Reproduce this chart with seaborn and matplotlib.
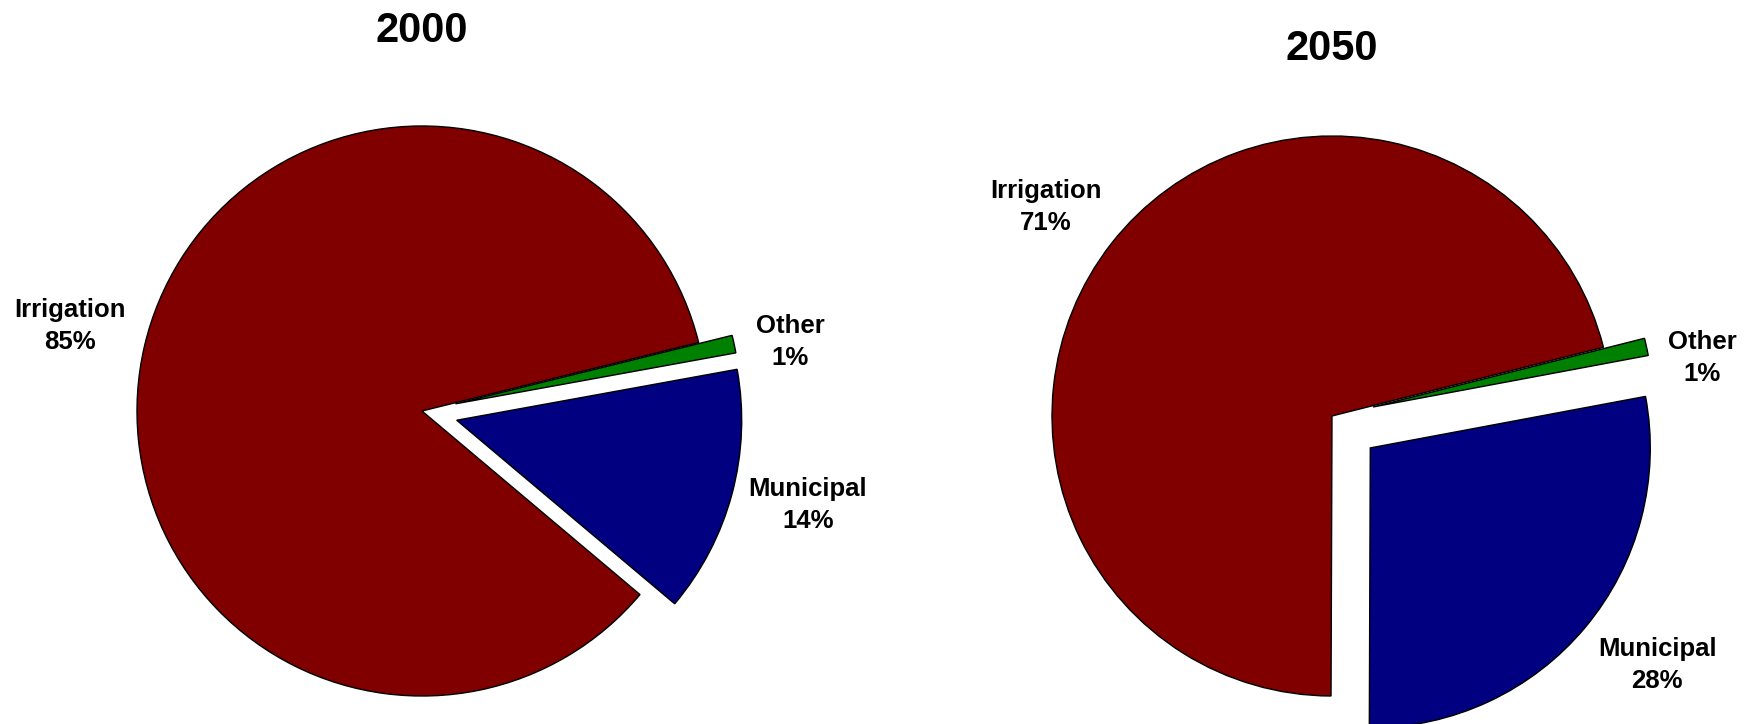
import matplotlib
matplotlib.use("Agg")
import matplotlib.pyplot as plt
import seaborn as sns

sns.set_theme(style="white")
plt.rcParams['font.family'] = ['Liberation Sans', 'DejaVu Sans']

# ---- data ----
categories = ["Irrigation", "Municipal", "Other"]
years = ["2000", "2050"]
values_2000 = [85, 14, 1]
values_2050 = [71, 28, 1]
colors = ["#800000", "#000080", "#008000"]

# ---- layout ----
W, H = 1752, 724
fig = plt.figure(figsize=(W / 100, H / 100), dpi=100)
fig.patch.set_facecolor("white")

L = 1.45
panels = [
    # (year, values, center_x_px, center_y_px_from_top, radius_px, startangle, explode, label offsets, title dy)
    (years[0], values_2000, 422, 411, 285, 13.9, [0, 0.126, 0.12],
     [(-1.235, 0.298), (1.354, -0.33), (1.291, 0.242)], 1.332),
    (years[1], values_2050, 1332, 416, 280, 14.2, [0, 0.178, 0.15],
     [(-1.021, 0.746), (1.161, -0.889), (1.321, 0.207)], 1.309),
]

for year, vals, cx, cy, R, start, explode, lab_pos, tdy in panels:
    size = 2 * L * R
    ax = fig.add_axes([(cx - size / 2) / W, (H - cy - size / 2) / H, size / W, size / H])
    ax.pie(vals, colors=colors, startangle=start, counterclock=True, explode=explode,
           radius=1.0, wedgeprops=dict(edgecolor="black", linewidth=1.0))
    ax.set_xlim(-L, L)
    ax.set_ylim(-L, L)
    ax.set_aspect("equal")
    ax.axis("off")
    for cat, v, (lx, ly) in zip(categories, vals, lab_pos):
        ax.text(lx, ly, f"{cat}\n{v}%", ha="center", va="center", fontsize=18.5,
                fontweight="bold", linespacing=1.42, color="black")
    ax.text(0, tdy, year, ha="center", va="center", fontsize=30, fontweight="bold", color="black")

fig.savefig("out.png", dpi=100, facecolor="white")
